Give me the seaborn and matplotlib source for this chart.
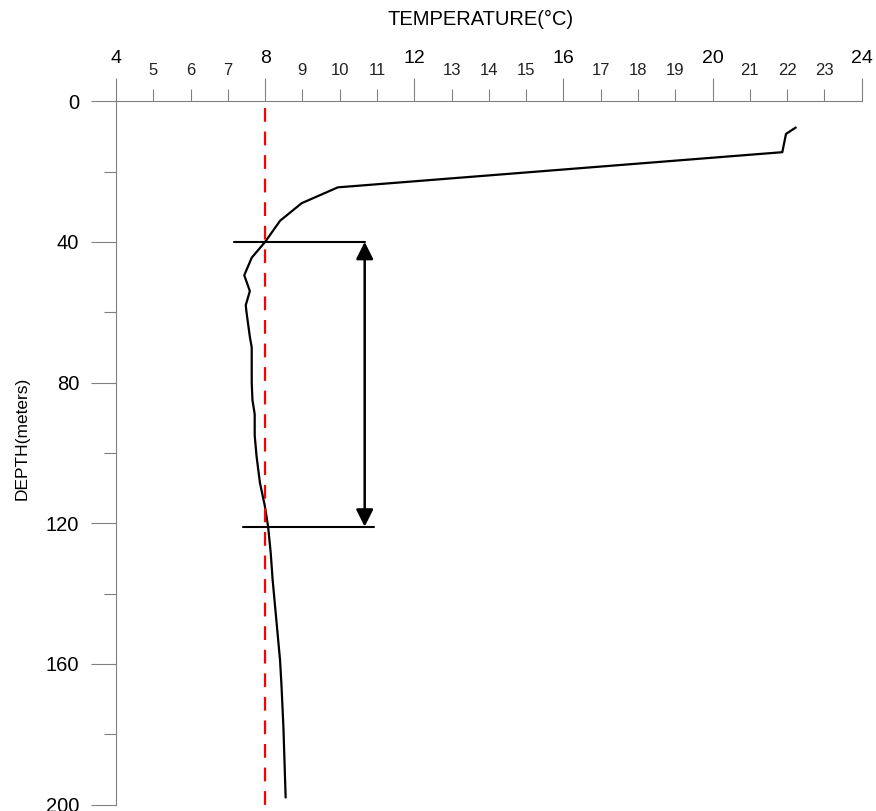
import matplotlib
matplotlib.use("Agg")
import matplotlib.pyplot as plt
import seaborn as sns
import pandas as pd

# Temperature profile (depth in metres, temperature in degrees C)
depth_m = [7.5, 9.3, 14.5, 24.5, 29, 34, 40, 44.5, 49.5, 54, 58, 60, 67, 70,
           80, 85, 89, 95, 101, 108.5, 115, 121, 128.5, 136, 159, 166.5, 178, 198]
temp_c = [22.23, 21.97, 21.87, 9.95, 8.98, 8.40, 8.00, 7.64, 7.44, 7.59, 7.48,
          7.50, 7.59, 7.64, 7.64, 7.66, 7.72, 7.72, 7.77, 7.86, 7.99, 8.08,
          8.15, 8.20, 8.40, 8.44, 8.49, 8.55]

# Reference isotherm and the layer it bounds
ref_temp = 8.0
ref_depth_range = [2, 200]
layer_top, layer_bottom = 40, 121
top_bar_x = [7.17, 10.68]
bottom_bar_x = [7.41, 10.92]
arrow_x = 10.67

# Axis ticks
x_major = [4, 8, 12, 16, 20, 24]
x_minor = [5, 6, 7, 9, 10, 11, 13, 14, 15, 17, 18, 19, 21, 22, 23]
y_major = [0, 40, 80, 120, 160, 200]
y_minor = [20, 60, 100, 140, 180]

sns.set_style("white")
plt.rcParams["font.family"] = ["Liberation Sans", "DejaVu Sans"]

W, H = 876, 811
fig = plt.figure(figsize=(W / 100, H / 100), dpi=100)
ax = fig.add_axes([116 / W, 1 - 804.5 / H, (861.7 - 116) / W, (804.5 - 101.2) / H])

profile = pd.DataFrame({"depth": depth_m, "temp": temp_c})
sns.lineplot(data=profile, x="temp", y="depth", sort=False, estimator=None,
             color="black", linewidth=1.6, ax=ax, clip_on=False)

ax.plot([ref_temp, ref_temp], ref_depth_range, color="#ff0000", linewidth=1.6,
        linestyle=(0, (6.2, 4.4)), clip_on=False)

ax.plot(top_bar_x, [layer_top, layer_top], color="black", linewidth=1.5)
ax.plot(bottom_bar_x, [layer_bottom, layer_bottom], color="black", linewidth=1.5)
ax.annotate("", xy=(arrow_x, layer_top), xytext=(arrow_x, layer_bottom),
            arrowprops=dict(arrowstyle="<|-|>,head_length=0.52,head_width=0.26",
                            mutation_scale=20, color="black", linewidth=1.8,
                            shrinkA=0, shrinkB=0))

ax.set_xlim(4, 24)
ax.set_ylim(200, 0)

axis_grey = "#808080"
for side in ["right", "bottom"]:
    ax.spines[side].set_visible(False)
for side in ["left", "top"]:
    ax.spines[side].set_color(axis_grey)
    ax.spines[side].set_linewidth(0.8)

ax.xaxis.tick_top()
ax.set_xticks(x_major)
ax.set_xticklabels([str(v) for v in x_major])
ax.set_xticks(x_minor, minor=True)
ax.set_xticklabels([str(v) for v in x_minor], minor=True)
ax.set_yticks(y_major)
ax.set_yticklabels([str(v) for v in y_major])
ax.set_yticks(y_minor, minor=True)

ax.tick_params(axis="x", which="major", direction="out", length=16.5, width=0.8,
               color=axis_grey, labelsize=14, pad=8.0, labelcolor="black",
               top=True, bottom=False, labeltop=True, labelbottom=False)
ax.tick_params(axis="x", which="minor", direction="out", length=8.4, width=0.8,
               color=axis_grey, labelsize=12, pad=8.2, labelcolor="#222222",
               top=True, bottom=False, labeltop=True, labelbottom=False)
ax.tick_params(axis="y", which="major", direction="out", length=18, width=0.8,
               color=axis_grey, labelsize=14.5, pad=8.5, labelcolor="black", left=True)
ax.tick_params(axis="y", which="minor", direction="out", length=8.8, width=0.8,
               color=axis_grey, left=True)
ax.set_xlabel("")
ax.set_ylabel("")

fig.text(481 / W, 1 - 25 / H, "TEMPERATURE(°C)", fontsize=14.5,
         ha="center", va="baseline", color="black")
fig.text(22.5 / W, 1 - 438 / H, "DEPTH(meters)", fontsize=12.5, rotation=90,
         ha="center", va="center", color="black")

fig.savefig("out.png", dpi=100, facecolor="white")
